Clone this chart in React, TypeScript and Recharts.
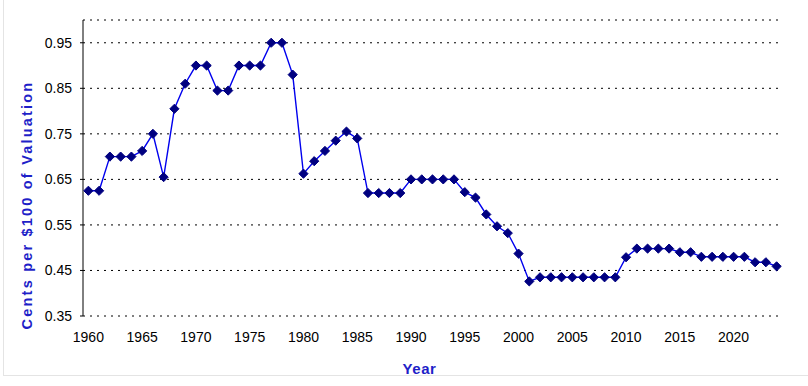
import React from 'react';
import { LineChart, Line, XAxis, YAxis, CartesianGrid } from 'recharts';

const years = Array.from({ length: 65 }, (_, i) => 1960 + i);

const rates = [
  0.625, 0.625, 0.7, 0.7, 0.7, 0.7125, 0.75, 0.655, 0.805, 0.86,
  0.9, 0.9, 0.845, 0.845, 0.9, 0.9, 0.9, 0.95, 0.95, 0.88,
  0.6625, 0.69, 0.7125, 0.735, 0.755, 0.74, 0.62, 0.62, 0.62, 0.62,
  0.65, 0.65, 0.65, 0.65, 0.65, 0.622, 0.61, 0.573, 0.547, 0.532,
  0.487, 0.426, 0.435, 0.435, 0.435, 0.435, 0.435, 0.435, 0.435, 0.435,
  0.479, 0.498, 0.498, 0.498, 0.498, 0.49, 0.49, 0.48, 0.48, 0.48,
  0.48, 0.48, 0.468, 0.468, 0.459,
];

const xLabels = [1960, 1965, 1970, 1975, 1980, 1985, 1990, 1995, 2000, 2005, 2010, 2015, 2020];
const yTicks = [0.35, 0.45, 0.55, 0.65, 0.75, 0.85, 0.95];

const data = years.map((year, i) => ({ year, rate: rates[i] }));
// tick marks sit between categories, like Excel
const boundaries = [...years.map((y) => y - 0.5), years[years.length - 1] + 0.5];
const xDomain = [years[0] - 0.5, years[years.length - 1] + 0.5];

const titleColor = '#1f1fc8';
const font = 'Arial, "Liberation Sans", sans-serif';

const Diamond = (props: any) => {
  const { cx, cy } = props;
  if (cx == null || cy == null) return null;
  const r = 4.6;
  return (
    <polygon
      points={`${cx},${cy - r} ${cx + r},${cy} ${cx},${cy + r} ${cx - r},${cy}`}
      fill="#000080"
      stroke="#000080"
    />
  );
};

const YTitle = (props: any) => {
  const { viewBox } = props;
  const cx = viewBox.x + 27;
  const cy = viewBox.y + viewBox.height / 2 + 37;
  return (
    <text
      x={cx}
      y={cy}
      transform={`rotate(-90, ${cx}, ${cy})`}
      textAnchor="middle"
      dominantBaseline="central"
      fill={titleColor}
      fontWeight="bold"
      fontSize={14.5}
      letterSpacing={2.2}
      fontFamily={font}
    >
      Cents per $100 of Valuation
    </text>
  );
};

const XTitle = (props: any) => {
  const { viewBox } = props;
  const cx = viewBox.x + viewBox.width / 2 - 13;
  return (
    <text
      x={cx}
      y={viewBox.y + viewBox.height - 2}
      textAnchor="middle"
      fill={titleColor}
      fontWeight="bold"
      fontSize={15}
      letterSpacing={0.6}
      fontFamily={font}
    >
      Year
    </text>
  );
};

export default function App() {
  const tickStyle = { fill: '#000', fontSize: 14, fontFamily: font };
  return (
    <div style={{ position: 'absolute', left: 0, top: 0, width: 808, height: 386, background: '#fff' }}>
      <div
        style={{
          position: 'absolute', left: 3, top: 0, width: 805, height: 375,
          borderLeft: '1px solid #e4e4e4', borderBottom: '1px solid #e4e4e4',
        }}
      />
      <LineChart
        width={808}
        height={386}
        data={data}
        margin={{ top: 20, right: 26, left: 0, bottom: 10 }}
        style={{ position: 'absolute', left: 0, top: 0 }}
      >
        <CartesianGrid vertical={false} stroke="#000" strokeDasharray="2 5" yAxisId="y" />
        <XAxis
          xAxisId="marks"
          dataKey="year"
          type="number"
          domain={xDomain}
          ticks={boundaries}
          interval={0}
          tick={false}
          tickSize={5}
          height={0}
          stroke="#000"
          allowDataOverflow
        />
        <XAxis
          xAxisId="labels"
          dataKey="year"
          type="number"
          domain={xDomain}
          ticks={xLabels}
          interval={0}
          tickLine={false}
          axisLine={false}
          tickSize={5}
          tickMargin={11}
          tick={tickStyle}
          height={60}
          label={<XTitle />}
          allowDataOverflow
        />
        <YAxis
          yAxisId="y"
          type="number"
          domain={[0.35, 1.0]}
          ticks={yTicks}
          interval={0}
          tickFormatter={(v: number) => v.toFixed(2)}
          tick={tickStyle}
          tickSize={3}
          tickMargin={8}
          width={83}
          stroke="#000"
          label={<YTitle />}
          allowDataOverflow
        />
        <Line
          xAxisId="labels"
          yAxisId="y"
          dataKey="rate"
          type="linear"
          stroke="#0000ee"
          strokeWidth={1.4}
          dot={<Diamond />}
          activeDot={false}
          isAnimationActive={false}
        />
      </LineChart>
    </div>
  );
}
